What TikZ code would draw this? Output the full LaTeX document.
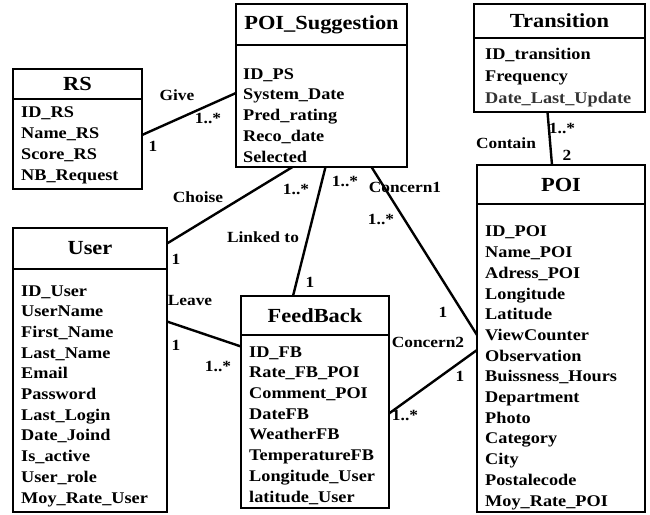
\documentclass[tikz,border=0pt]{standalone}
\usepackage{fontspec}
\setmainfont{Liberation Serif}[FakeStretch=1.12]
\usepackage{tikz}

\tikzset{
  classtitle/.style={draw, line width=2.6pt, outer sep=0pt, inner sep=0pt, anchor=north west,
    font=\fontsize{20}{24}\selectfont\bfseries},
  classbody/.style={draw, line width=2.6pt, outer sep=0pt, inner sep=0pt, anchor=north west},
  attrs/.style={align=left, inner sep=0pt, anchor=base west,
    font=\fontsize{16.3}{20.7}\selectfont\bfseries},
  lbl/.style={inner sep=0pt, font=\fontsize{15.5}{18}\selectfont\bfseries},
  assoc/.style={line width=2.4pt}
}

\begin{document}
\begin{tikzpicture}[x=1pt, y=-1pt]
  \useasboundingbox (0,0) rectangle (650,514);

  % Class RS  (attribute nodes are placed by the baseline of their last line)
  \node[classtitle, minimum width=129, minimum height=30] (rsT) at (13,69) {RS};
  \node[classbody, minimum width=129, minimum height=90] (rsB) at (rsT.south west) {};
  \node[attrs] (rsA) at (21,180) {ID\_RS\\Name\_RS\\Score\_RS\\NB\_Request};

  % Class POI_Suggestion
  \node[classtitle, minimum width=171, minimum height=41] (sugT) at (236,4) {POI\_Suggestion};
  \node[classbody, minimum width=171, minimum height=122] (sugB) at (sugT.south west) {};
  \node[attrs] (sugA) at (243,162) {ID\_PS\\System\_Date\\Pred\_rating\\Reco\_date\\Selected};

  % Class Transition
  \node[classtitle, minimum width=171, minimum height=34] (trT) at (474,4) {Transition};
  \node[classbody, minimum width=171, minimum height=74] (trB) at (trT.south west) {};
  \node[attrs, font=\fontsize{16.3}{22}\selectfont\bfseries] (trA) at (485,103)
    {ID\_transition\\Frequency\\\textcolor{black!80}{Date\_Last\_Update}};

  % Class POI
  \node[classtitle, minimum width=168, minimum height=39] (poiT) at (477,165) {POI};
  \node[classbody, minimum width=168, minimum height=308] (poiB) at (poiT.south west) {};
  \node[attrs] (poiA) at (485,506) {ID\_POI\\Name\_POI\\Adress\_POI\\Longitude\\Latitude\\ViewCounter\\Observation\\Buissness\_Hours\\Department\\Photo\\Category\\City\\Postalecode\\Moy\_Rate\_POI};

  % Class User
  \node[classtitle, minimum width=154, minimum height=41] (userT) at (13,228) {User};
  \node[classbody, minimum width=154, minimum height=243] (userB) at (userT.south west) {};
  \node[attrs] (userA) at (21,503) {ID\_User\\UserName\\First\_Name\\Last\_Name\\Email\\Password\\Last\_Login\\Date\_Joind\\Is\_active\\User\_role\\Moy\_Rate\_User};

  % Class FeedBack
  \node[classtitle, minimum width=148, minimum height=39] (fbT) at (241,296) {FeedBack};
  \node[classbody, minimum width=148, minimum height=173] (fbB) at (fbT.south west) {};
  \node[attrs] (fbA) at (249,502) {ID\_FB\\Rate\_FB\_POI\\Comment\_POI\\DateFB\\WeatherFB\\TemperatureFB\\Longitude\_User\\latitude\_User};

  % Associations
  \draw[assoc] ([yshift=9pt]rsB.east) -- ([yshift=13pt]sugB.west);
  \draw[assoc] ([yshift=5pt]userT.east) -- ([xshift=-29pt]sugB.south);
  \draw[assoc] ([xshift=4pt]sugB.south) -- ([xshift=-22pt]fbT.north);
  \draw[assoc] ([xshift=50pt]sugB.south) -- ([yshift=23pt]poiB.west);
  \draw[assoc] ([xshift=-12pt]trB.south) -- ([xshift=-9pt]poiT.north);
  \draw[assoc] ([yshift=69pt]userB.east) -- ([yshift=75pt]fbB.west);
  \draw[assoc] ([yshift=8pt]fbB.east) -- ([yshift=8pt]poiB.west);

  % Labels and multiplicities
  \node[lbl] (giveL) at (177,95) {Give};
  \node[lbl] (giveM1) at (208,118) {1..*};
  \node[lbl] (giveM2) at (153,146) {1};
  \node[lbl] (choiseL) at (198,197) {Choise};
  \node[lbl] (choiseM1) at (296,189) {1..*};
  \node[lbl] (choiseM2) at (176,259) {1};
  \node[lbl] (linkL) at (263,237) {Linked to};
  \node[lbl] (linkM1) at (345,181) {1..*};
  \node[lbl] (linkM2) at (310,282) {1};
  \node[lbl] (conc1L) at (405,187) {Concern1};
  \node[lbl] (conc1M1) at (381,219) {1..*};
  \node[lbl] (conc1M2) at (443,312) {1};
  \node[lbl] (containL) at (506,143) {Contain};
  \node[lbl] (containM1) at (562,128) {1..*};
  \node[lbl] (containM2) at (567,155) {2};
  \node[lbl] (leaveL) at (190,300) {Leave};
  \node[lbl] (leaveM1) at (176,345) {1};
  \node[lbl] (leaveM2) at (218,366) {1..*};
  \node[lbl] (conc2L) at (428,342) {Concern2};
  \node[lbl] (conc2M1) at (460,376) {1};
  \node[lbl] (conc2M2) at (405,415) {1..*};
\end{tikzpicture}
\end{document}
